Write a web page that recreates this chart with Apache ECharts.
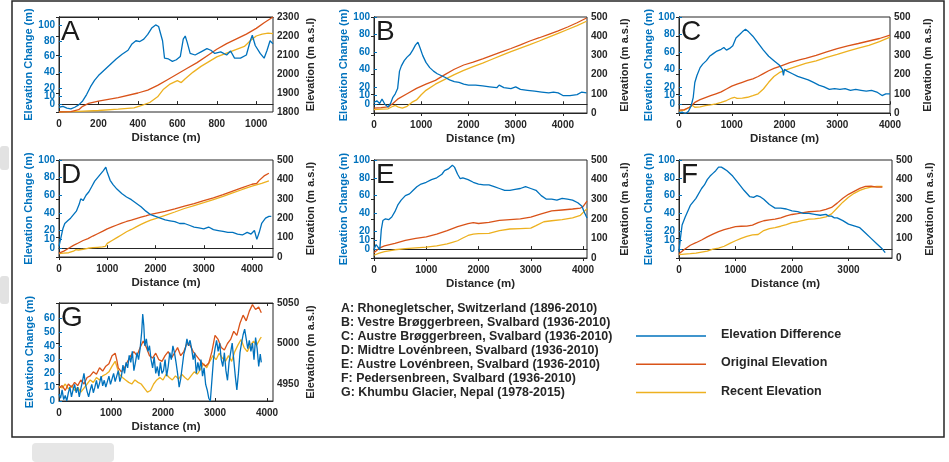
<!DOCTYPE html>
<html>
<head>
<meta charset="utf-8">
<script src="https://cdn.jsdelivr.net/npm/echarts@6/dist/echarts.min.js"></script>
<style>
html, body { margin: 0; padding: 0; background: #fff; }
#main { width: 949px; height: 462px; }
</style>
</head>
<body>
<div id="main"></div>
<script>
// colours of the three lines (matlab defaults)
var cDiff = '#0072BD', cOrig = '#D95319', cRec = '#EDB120';

// ---- A: Rhonegletscher ----
var aDiff = [[0,-4],[20,-3],[40,-5],[60,-6],[80,-4],[100,-1],[120,4],[140,12],[160,22],[180,30],[200,36],[230,43],[260,50],[290,57],[320,63],[350,68],[370,76],[390,80],[410,79],[430,82],[450,88],[470,96],[490,100],[505,98],[515,100],[525,80],[535,58],[555,57],[575,54],[595,56],[615,60],[630,82],[640,86],[650,78],[665,64],[690,62],[720,66],[750,70],[770,68],[790,64],[820,66],[850,62],[870,67],[890,58],[920,58],[950,62],[970,80],[980,87],[995,74],[1020,64],[1040,58],[1055,68],[1070,80],[1085,76]];
var aOrig = [[0,1800],[60,1802],[100,1812],[120,1830],[150,1845],[200,1857],[300,1876],[400,1900],[450,1915],[500,1940],[550,1970],[600,2000],[650,2030],[700,2060],[750,2095],[800,2130],[850,2160],[900,2185],[950,2210],[1000,2240],[1040,2270],[1085,2300]];
var aRec = [[0,1800],[100,1803],[200,1808],[300,1815],[380,1822],[420,1835],[460,1850],[500,1880],[530,1920],[560,1945],[600,1965],[620,1955],[640,1975],[680,2010],[720,2040],[760,2065],[800,2090],[850,2110],[900,2130],[940,2145],[970,2175],[1000,2200],[1030,2210],[1060,2215],[1085,2212]];

// ---- B: Vestre Broggerbreen ----
var bDiff = [[0,2],[60,4],[120,1],[170,6],[230,0],[300,-3],[350,1],[400,8],[450,12],[500,18],[540,38],[580,44],[640,50],[700,54],[760,57],[820,62],[880,68],[930,71],[980,64],[1030,56],[1100,48],[1180,42],[1260,38],[1340,35],[1420,33],[1500,31],[1600,28],[1700,26],[1800,25],[1900,23],[2000,22],[2150,22],[2300,21],[2450,20],[2600,19],[2650,22],[2750,19],[2900,18],[3000,20],[3100,17],[3250,16],[3400,15],[3550,14],[3700,13],[3800,14],[3900,13],[4000,10],[4150,10],[4300,11],[4400,14],[4500,13]];
var bOrig = [[0,25],[150,28],[300,32],[400,50],[500,72],[700,100],[900,128],[1100,150],[1300,170],[1500,200],[1700,228],[1900,250],[2100,265],[2300,282],[2500,300],[2700,318],[2900,336],[3100,355],[3300,375],[3500,392],[3700,410],[3900,428],[4100,448],[4300,470],[4500,495]];
var bRec = [[0,18],[150,20],[300,22],[400,35],[450,40],[520,30],[600,25],[700,35],[800,55],[900,68],[1000,95],[1100,118],[1300,150],[1500,175],[1700,200],[1900,222],[2100,242],[2300,260],[2500,280],[2700,300],[2900,320],[3100,338],[3300,356],[3500,375],[3700,395],[3900,415],[4100,435],[4300,455],[4500,478]];

// ---- C: Austre Broggerbreen ----
var cDiffData = [[0,-10],[60,-9],[120,-11],[180,-8],[230,-2],[270,8],[300,25],[340,33],[400,42],[450,46],[520,50],[580,55],[650,58],[720,61],[800,63],[850,65],[900,62],[960,64],[1020,67],[1080,76],[1150,80],[1200,83],[1260,86],[1320,83],[1400,78],[1500,70],[1600,62],[1700,55],[1800,50],[1900,45],[1960,40],[1980,33],[2000,40],[2050,38],[2150,35],[2250,32],[2350,30],[2450,28],[2550,25],[2650,22],[2750,20],[2850,17],[2950,18],[3050,17],[3150,18],[3250,16],[3350,17],[3450,16],[3550,15],[3650,16],[3750,14],[3850,10],[3920,12],[4000,12]];
var cOrigData = [[0,15],[100,18],[200,30],[300,55],[400,70],[500,80],[600,90],[700,100],[800,110],[900,125],[1000,140],[1100,150],[1200,160],[1300,170],[1400,178],[1500,190],[1600,205],[1700,220],[1800,232],[1900,242],[2000,252],[2100,262],[2200,270],[2300,278],[2400,285],[2600,300],[2800,318],[3000,335],[3200,350],[3400,362],[3600,375],[3800,388],[4000,405]];
var cRecData = [[0,10],[100,15],[200,30],[250,40],[300,30],[400,32],[500,38],[600,42],[700,48],[800,55],[900,65],[1000,78],[1050,82],[1100,76],[1200,78],[1300,82],[1400,90],[1500,100],[1600,125],[1700,160],[1800,190],[1900,210],[2000,222],[2200,240],[2400,258],[2600,272],[2800,290],[3000,305],[3200,322],[3400,338],[3600,352],[3800,372],[4000,395]];

// ---- D: Midtre Lovenbreen ----
var dDiff = [[0,2],[40,12],[80,22],[120,28],[180,31],[240,34],[300,38],[360,42],[420,50],[450,56],[500,54],[560,60],[620,64],[680,70],[740,76],[800,80],[860,84],[920,88],[970,92],[1000,86],[1060,77],[1120,72],[1200,67],[1300,62],[1400,58],[1500,55],[1600,51],[1700,47],[1800,42],[1900,38],[2000,36],[2100,34],[2200,32],[2300,31],[2400,30],[2500,28],[2600,28],[2700,26],[2800,24],[2900,23],[3000,22],[3100,24],[3200,21],[3300,20],[3400,19],[3500,18],[3600,18],[3700,16],[3800,15],[3900,18],[3980,16],[4050,20],[4100,10],[4150,18],[4200,28],[4280,34],[4350,36],[4400,36]];
var dOrig = [[0,20],[100,30],[200,45],[300,60],[400,72],[500,85],[600,95],[700,108],[800,120],[900,132],[1000,145],[1100,155],[1200,165],[1300,175],[1400,183],[1500,190],[1600,198],[1700,205],[1800,212],[1900,220],[2000,225],[2200,235],[2400,248],[2600,262],[2800,275],[3000,290],[3200,305],[3400,322],[3600,340],[3800,358],[4000,375],[4100,380],[4150,395],[4250,418],[4350,432]];
var dRec = [[0,17],[100,20],[200,22],[300,30],[350,38],[400,36],[500,40],[600,45],[700,48],[800,50],[900,52],[960,55],[1000,70],[1100,85],[1200,100],[1300,115],[1400,130],[1500,142],[1600,155],[1700,168],[1800,180],[1900,190],[2000,198],[2200,215],[2400,232],[2600,250],[2800,265],[3000,280],[3200,296],[3400,312],[3600,330],[3800,348],[4000,365],[4200,380],[4350,392]];

// ---- E: Austre Lovenbreen ----
var eDiff = [[0,0],[40,5],[80,2],[110,-1],[140,22],[170,32],[220,34],[280,33],[340,36],[400,42],[460,50],[520,55],[600,60],[680,62],[750,66],[820,70],[900,73],[1000,75],[1100,78],[1200,80],[1300,84],[1350,88],[1420,90],[1500,94],[1540,92],[1600,84],[1650,79],[1700,80],[1800,78],[1900,75],[2000,73],[2100,72],[2200,72],[2300,70],[2400,68],[2500,66],[2600,66],[2700,67],[2800,68],[2900,70],[3000,68],[3100,66],[3200,60],[3300,56],[3400,56],[3500,55],[3600,57],[3700,56],[3800,55],[3900,52],[3980,48],[4020,42],[4076,35]];
var eOrig = [[0,27],[100,50],[200,62],[400,75],[600,90],[800,100],[1000,108],[1200,122],[1400,140],[1600,160],[1800,175],[1900,180],[2000,176],[2200,182],[2400,192],[2600,196],[2800,200],[3000,208],[3200,225],[3400,240],[3600,245],[3800,250],[3950,255],[4000,262],[4076,290]];
var eRec = [[0,14],[100,25],[200,32],[400,42],[600,48],[800,52],[1000,56],[1200,62],[1400,72],[1500,80],[1600,88],[1700,102],[1800,115],[1900,122],[2000,124],[2200,126],[2400,140],[2600,148],[2800,150],[3000,152],[3100,165],[3250,185],[3400,190],[3600,196],[3800,205],[3950,218],[4076,252]];

// ---- F: Pedersenbreen ----
var fDiff = [[0,-3],[25,12],[55,27],[110,36],[200,49],[300,57],[400,68],[450,72],[500,78],[550,82],[600,85],[650,88],[700,92],[750,92],[800,90],[850,88],[950,82],[1050,74],[1150,66],[1250,59],[1320,58],[1380,60],[1430,59],[1500,56],[1600,50],[1700,46],[1800,46],[1900,45],[2000,43],[2100,42],[2200,40],[2300,40],[2400,39],[2500,38],[2600,39],[2650,37],[2700,37],[2750,35],[2800,35],[2900,32],[3000,28],[3100,26],[3200,24],[3300,18],[3400,12],[3500,6],[3600,0],[3650,-4]];
var fOrig = [[0,22],[100,45],[200,65],[300,78],[400,92],[500,108],[600,122],[700,135],[800,145],[900,152],[1000,160],[1100,162],[1200,163],[1300,168],[1400,180],[1500,190],[1600,195],[1700,198],[1800,205],[1900,215],[2000,222],[2100,226],[2200,232],[2300,236],[2400,238],[2500,240],[2600,248],[2700,258],[2800,280],[2900,305],[3000,325],[3100,340],[3200,355],[3300,365],[3400,366],[3500,362],[3600,362]];
var fRec = [[0,17],[100,20],[200,22],[300,25],[400,30],[500,35],[600,45],[700,50],[800,60],[900,75],[1000,88],[1100,100],[1200,110],[1300,118],[1400,120],[1500,140],[1600,150],[1700,155],[1800,162],[1900,170],[2000,180],[2100,185],[2200,192],[2300,198],[2400,200],[2500,203],[2600,210],[2700,225],[2800,255],[2900,285],[3000,310],[3100,330],[3200,345],[3300,355],[3400,362],[3500,365],[3600,365]];

// ---- G: Khumbu Glacier ----
var gDiff = [[0,5],[30,2],[60,8],[90,1],[120,4],[150,0],[180,6],[210,10],[240,3],[270,8],[300,12],[330,6],[360,10],[390,3],[420,9],[450,14],[480,20],[510,12],[540,7],[570,3],[600,8],[630,12],[660,6],[690,10],[720,15],[750,9],[780,13],[810,18],[840,11],[870,15],[900,10],[930,14],[960,18],[990,12],[1020,16],[1050,20],[1080,14],[1110,18],[1140,22],[1170,14],[1200,18],[1230,26],[1260,20],[1290,28],[1320,24],[1350,33],[1380,28],[1410,36],[1440,22],[1470,28],[1500,35],[1530,30],[1560,38],[1590,50],[1610,63],[1630,55],[1650,40],[1680,45],[1710,36],[1740,40],[1770,30],[1800,24],[1830,32],[1860,20],[1890,25],[1920,18],[1950,28],[1980,20],[2010,22],[2040,30],[2070,18],[2100,25],[2130,35],[2160,30],[2190,40],[2220,35],[2250,28],[2280,20],[2310,10],[2340,16],[2370,25],[2400,34],[2430,38],[2460,45],[2490,40],[2520,44],[2550,38],[2580,30],[2610,35],[2640,20],[2670,28],[2700,22],[2730,30],[2760,18],[2790,24],[2820,12],[2850,8],[2880,2],[2910,0],[2940,15],[2970,30],[3000,38],[3030,44],[3060,36],[3090,42],[3120,30],[3150,25],[3180,35],[3210,22],[3240,15],[3270,28],[3300,35],[3330,42],[3360,30],[3390,18],[3420,8],[3450,20],[3480,35],[3510,42],[3540,48],[3570,52],[3600,45],[3630,38],[3660,44],[3690,36],[3720,42],[3750,30],[3780,46],[3810,38],[3840,25],[3870,34],[3890,28]];
var gOrig = [[0,4945],[60,4948],[120,4942],[180,4950],[240,4946],[300,4952],[360,4948],[420,4955],[480,4950],[540,4958],[600,4960],[660,4965],[720,4962],[780,4970],[840,4966],[900,4972],[960,4975],[1020,4985],[1080,4988],[1110,4980],[1140,4970],[1200,4965],[1260,4970],[1320,4978],[1380,4985],[1440,4990],[1500,4985],[1560,4995],[1620,5003],[1680,4995],[1740,4985],[1800,4982],[1860,4988],[1920,4980],[1980,4978],[2040,4985],[2100,4990],[2160,4982],[2220,4988],[2280,4995],[2340,4985],[2400,4990],[2460,5000],[2520,4998],[2580,4990],[2640,4985],[2700,4980],[2760,4975],[2820,4972],[2880,4976],[2940,4990],[3000,5010],[3060,5005],[3120,4995],[3180,4992],[3240,5000],[3300,5005],[3360,5015],[3420,5010],[3480,5025],[3540,5035],[3600,5028],[3660,5040],[3720,5048],[3780,5042],[3840,5045],[3890,5038]];
var gRec = [[0,4947],[60,4945],[120,4950],[180,4944],[240,4948],[300,4942],[360,4946],[420,4940],[480,4945],[540,4950],[600,4955],[660,4952],[720,4958],[780,4955],[840,4960],[900,4962],[960,4965],[1020,4972],[1080,4978],[1120,4970],[1160,4962],[1220,4958],[1280,4955],[1340,4952],[1400,4950],[1460,4955],[1520,4952],[1580,4950],[1640,4945],[1700,4940],[1760,4942],[1820,4950],[1880,4955],[1940,4958],[2000,4955],[2060,4962],[2120,4958],[2180,4955],[2240,4960],[2300,4956],[2360,4962],[2420,4958],[2480,4955],[2540,4960],[2600,4965],[2660,4962],[2720,4968],[2780,4975],[2840,4970],[2900,4978],[2960,4985],[3020,4980],[3080,4988],[3140,4982],[3200,4978],[3260,4985],[3320,4978],[3380,4990],[3440,4998],[3500,5005],[3560,4995],[3620,4990],[3680,4998],[3740,5003],[3800,4998],[3860,5005],[3890,5008]];

// tick labels
var ticksLeft = [-10, 0, 10, 20, 40, 60, 80, 100];
var ticksLeftG = [0, 10, 20, 30, 40, 50, 60];
var ticksRightA = [1800, 1900, 2000, 2100, 2200, 2300];
var ticksRight = [0, 100, 200, 300, 400, 500];
var ticksRightG = [4950, 5000, 5050];
var ticksXA = [0, 200, 400, 600, 800, 1000];
var ticksX4 = [0, 1000, 2000, 3000, 4000];
var ticksXF = [0, 1000, 2000, 3000];

var glaciers = [
	'A: Rhonegletscher, Switzerland (1896-2010)',
	'B: Vestre Brøggerbreen, Svalbard (1936-2010)',
	'C: Austre Brøggerbreen, Svalbard (1936-2010)',
	'D: Midtre Lovénbreen, Svalbard (1936-2010)',
	'E: Austre Lovénbreen, Svalbard (1936-2010)',
	'F: Pedersenbreen, Svalbard (1936-2010)',
	'G: Khumbu Glacier, Nepal (1978-2015)'
];
var legendNames = ['Elevation Difference', 'Original Elevation', 'Recent Elevation'];

var panels = [
	{ letter: 'A', box: [59, 17, 214, 95], xMax: 1085, xTicks: ticksXA, yl: [-10, 110], ylTicks: ticksLeft, yr: [1800, 2300], yrTicks: ticksRightA, d: [aDiff, aOrig, aRec] },
	{ letter: 'B', box: [374, 17, 213, 96], xMax: 4510, xTicks: ticksX4, yl: [-10, 100], ylTicks: ticksLeft, yr: [0, 500], yrTicks: ticksRight, d: [bDiff, bOrig, bRec] },
	{ letter: 'C', box: [679, 17, 211, 96], xMax: 4000, xTicks: ticksX4, yl: [-10, 100], ylTicks: ticksLeft, yr: [0, 500], yrTicks: ticksRight, d: [cDiffData, cOrigData, cRecData] },
	{ letter: 'D', box: [59, 160, 214, 97], xMax: 4435, xTicks: ticksX4, yl: [-10, 100], ylTicks: ticksLeft, yr: [0, 500], yrTicks: ticksRight, d: [dDiff, dOrig, dRec] },
	{ letter: 'E', box: [374, 160, 213, 98], xMax: 4076, xTicks: ticksX4, yl: [-10, 100], ylTicks: ticksLeft, yr: [0, 500], yrTicks: ticksRight, d: [eDiff, eOrig, eRec] },
	{ letter: 'F', box: [679, 160, 213, 98], xMax: 3770, xTicks: ticksXF, yl: [-10, 100], ylTicks: ticksLeft, yr: [0, 500], yrTicks: ticksRight, d: [fDiff, fOrig, fRec] },
	{ letter: 'G', box: [59, 303, 214, 98], xMax: 4115, xTicks: ticksX4, yl: [0, 71], ylTicks: ticksLeftG, yr: [4929, 5050], yrTicks: ticksRightG, d: [gDiff, gOrig, gRec] }
];

var font = 'Arial, "Liberation Sans", sans-serif';
var lbl = { fontFamily: font, fontSize: 10, fontWeight: 'bold', color: '#262626', formatter: function(v) { return String(v); } };
var nameStyle = { fontFamily: font, fontSize: 11.5, fontWeight: 'bold', color: '#262626' };

var grids = [], xAxes = [], yAxes = [], series = [], graphics = [];

panels.forEach(function(p, i) {
	grids.push({ left: p.box[0], top: p.box[1], width: p.box[2], height: p.box[3], show: true, borderColor: '#262626', borderWidth: 1, containLabel: false });
	// bottom axis
	xAxes.push({
		type: 'value', gridIndex: i, min: 0, max: p.xMax, position: 'bottom',
		name: 'Distance (m)', nameLocation: 'middle', nameGap: 20,
		nameTextStyle: nameStyle,
		axisLine: { lineStyle: { color: '#262626' } },
		axisTick: { inside: true, length: 3, customValues: p.xTicks, lineStyle: { color: '#262626' } },
		axisLabel: Object.assign({ margin: 7, customValues: p.xTicks }, lbl),
		splitLine: { show: false }
	});
	// top axis just for the ticks of the box
	xAxes.push({
		type: 'value', gridIndex: i, min: 0, max: p.xMax, position: 'top',
		axisLine: { lineStyle: { color: '#262626' } },
		axisTick: { inside: true, length: 3, customValues: p.xTicks, lineStyle: { color: '#262626' } },
		axisLabel: { show: false }, splitLine: { show: false }
	});
	yAxes.push({
		type: 'value', gridIndex: i, min: p.yl[0], max: p.yl[1], position: 'left',
		name: 'Elevation Change (m)', nameLocation: 'middle', nameGap: 24, nameRotate: 90,
		nameTextStyle: Object.assign({}, nameStyle, { fontSize: 11, color: cDiff }),
		axisLine: { show: true, lineStyle: { color: '#262626' } },
		axisTick: { show: true, inside: true, length: 3, customValues: p.ylTicks, lineStyle: { color: cDiff } },
		axisLabel: Object.assign({}, lbl, { margin: 4, color: cDiff, customValues: p.ylTicks }),
		splitLine: { show: false }
	});
	yAxes.push({
		type: 'value', gridIndex: i, min: p.yr[0], max: p.yr[1], position: 'right',
		name: 'Elevation (m a.s.l)', nameLocation: 'middle', nameGap: 32, nameRotate: 90,
		nameTextStyle: Object.assign({}, nameStyle, { fontSize: 11 }),
		axisLine: { show: true, lineStyle: { color: '#262626' } },
		axisTick: { show: true, inside: true, length: 3, customValues: p.yrTicks, lineStyle: { color: '#262626' } },
		axisLabel: Object.assign({ margin: 4, customValues: p.yrTicks }, lbl),
		splitLine: { show: false }
	});
	var cols = [cDiff, cOrig, cRec];
	p.d.forEach(function(arr, k) {
		series.push({
			type: 'line', name: legendNames[k], data: arr,
			xAxisIndex: i * 2, yAxisIndex: k === 0 ? i * 2 : i * 2 + 1,
			showSymbol: false, silent: true, clip: true,
			lineStyle: { color: cols[k], width: 1.3 },
			z: 3 - k
		});
	});
	graphics.push({
		type: 'text', left: p.box[0] + 2, top: p.box[1] + 1,
		style: { text: p.letter, font: '28px ' + font, fill: '#1a1a1a' }
	});
});

// faint grey watermark pieces along the left edge and below panel G
graphics.push({ type: 'rect', shape: { x: 0, y: 146, width: 9, height: 24, r: 3 }, style: { fill: '#e2e2e2' }, z: -1 });
graphics.push({ type: 'rect', shape: { x: 0, y: 276, width: 9, height: 28, r: 3 }, style: { fill: '#e2e2e2' }, z: -1 });
graphics.push({ type: 'rect', shape: { x: 32, y: 443, width: 82, height: 19, r: 4 }, style: { fill: '#e6e6e6' }, z: -1 });

// outer frame
graphics.push({ type: 'rect', shape: { x: 12, y: 1, width: 932, height: 436 }, style: { fill: 'none', stroke: '#262626', lineWidth: 1.5 }, z: 0 });

// glacier list
glaciers.forEach(function(t, k) {
	graphics.push({ type: 'text', left: 341, top: 303 + k * 14, style: { text: t, font: 'bold 12.4px ' + font, fill: '#262626' } });
});

// line key
[cDiff, cOrig, cRec].forEach(function(c, k) {
	var y = 336 + k * 28.3;
	graphics.push({ type: 'line', shape: { x1: 636, y1: y, x2: 706, y2: y }, style: { stroke: c, lineWidth: 1.5 } });
	graphics.push({ type: 'text', left: 721, top: y - 8, style: { text: legendNames[k], font: 'bold 12.5px ' + font, fill: '#262626' } });
});

var myChart = echarts.init(document.getElementById('main'));
myChart.setOption({
	animation: false,
	backgroundColor: '#fff',
	grid: grids,
	xAxis: xAxes,
	yAxis: yAxes,
	series: series,
	graphic: graphics
});
</script>
</body>
</html>
